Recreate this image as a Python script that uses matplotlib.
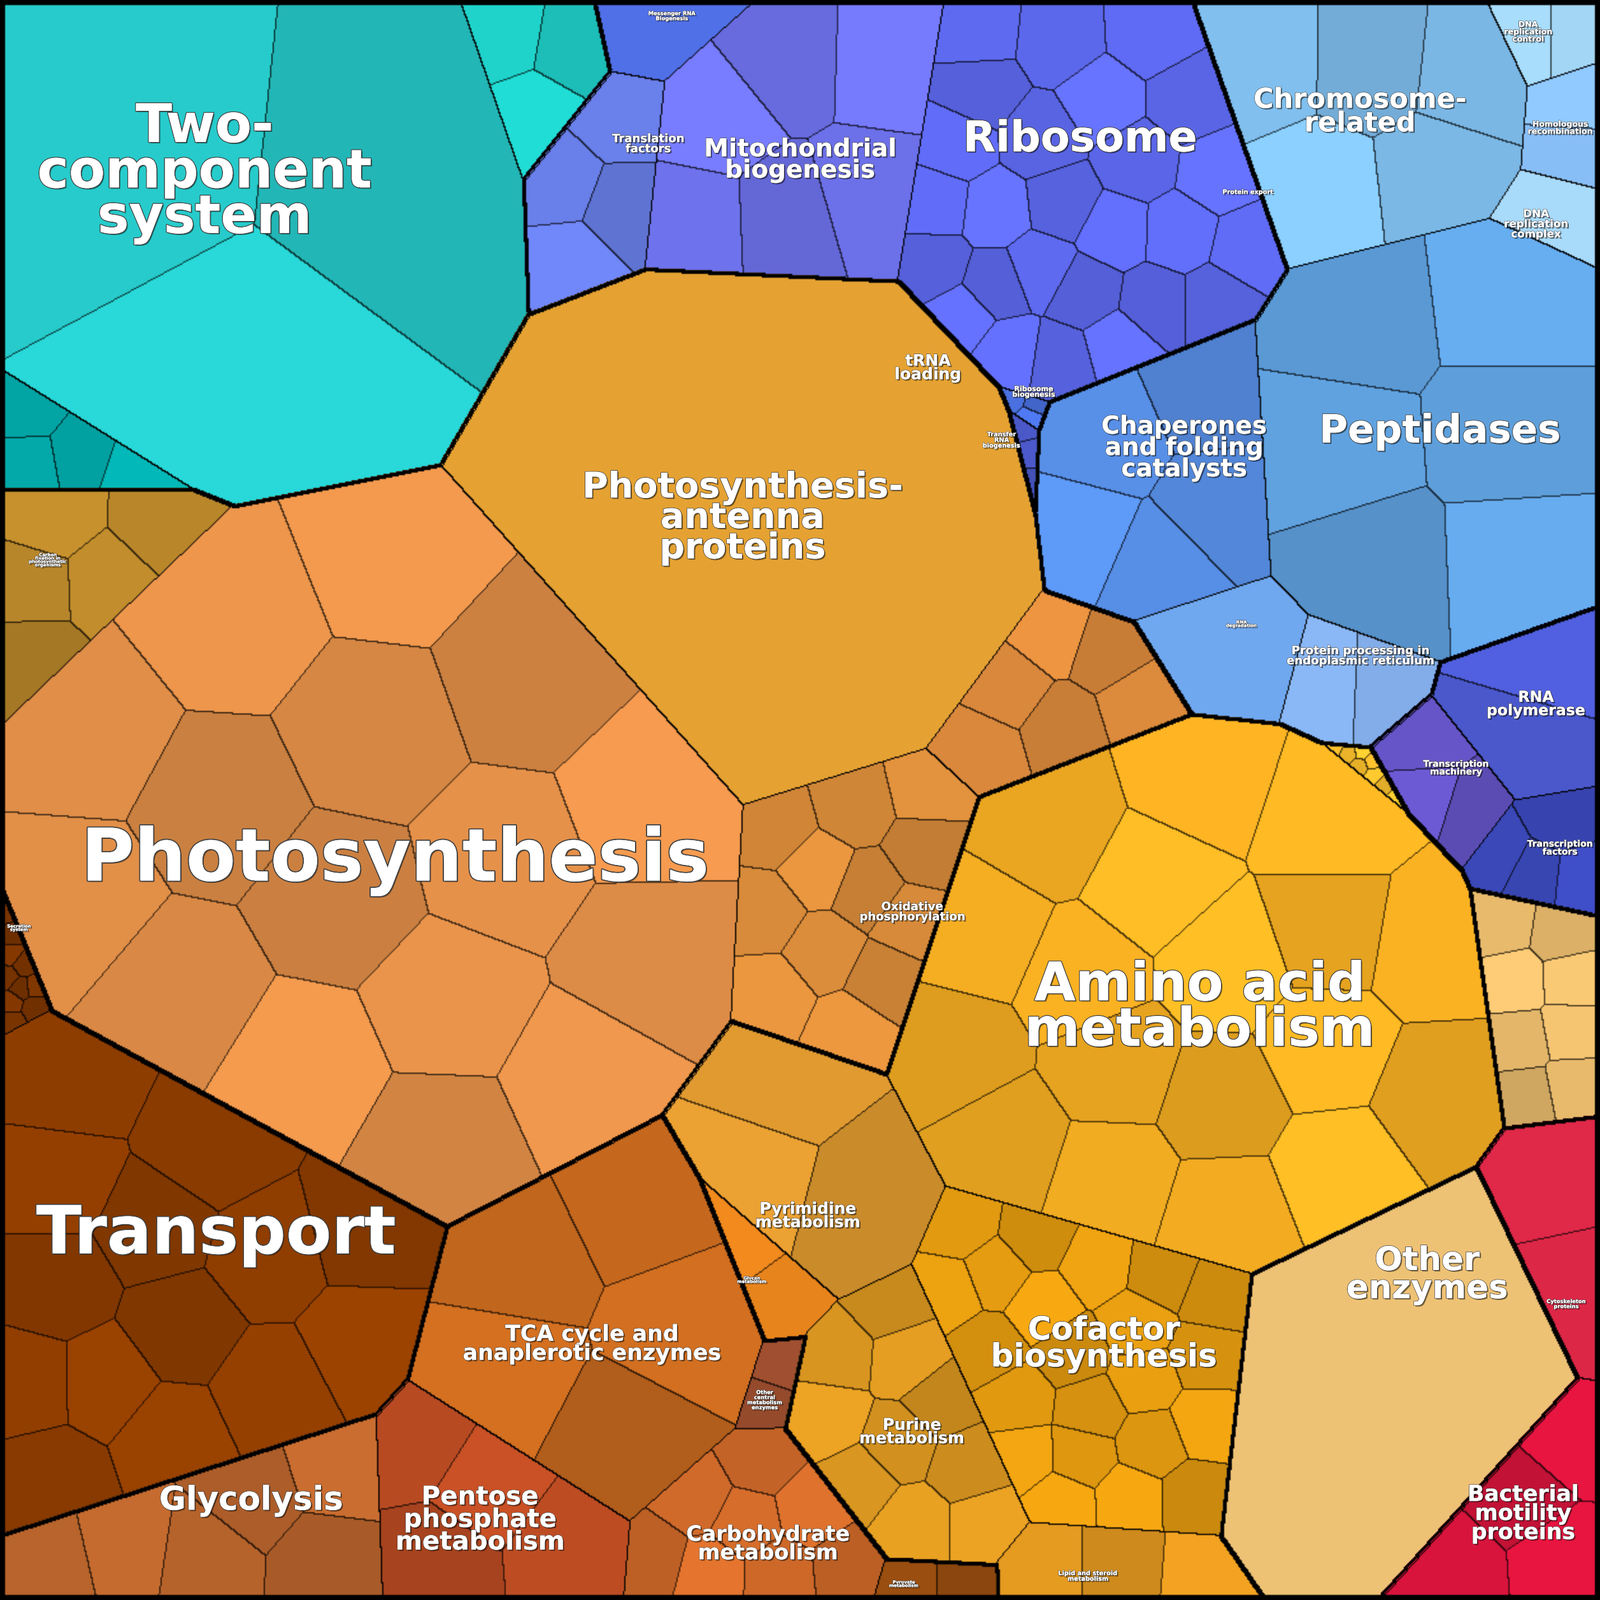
import numpy as np
import matplotlib
matplotlib.use("Agg")
import matplotlib.pyplot as plt
import matplotlib.patheffects as pe

# named cells: label, group, colour, number of sub-cells, font size
names = ["Two-\ncomponent\nsystem", "", "",
         "Photosynthesis-\nantenna\nproteins", "Photosynthesis", "Oxidative\nphosphorylation",
         "Carbon\nfixation in\nphotosynthetic\norganisms", "",
         "Transport", "Secretion\nsystem",
         "TCA cycle and\nanaplerotic enzymes", "Glycolysis", "Pentose\nphosphate\nmetabolism",
         "Carbohydrate\nmetabolism", "Other\ncentral\nmetabolism\nenzymes", "Pyruvate\nmetabolism",
         "Amino acid\nmetabolism", "Cofactor\nbiosynthesis", "Purine\nmetabolism",
         "Pyrimidine\nmetabolism", "Glycan\nmetabolism", "Lipid and steroid\nmetabolism", "",
         "Other\nenzymes", "",
         "Bacterial\nmotility\nproteins", "Cytoskeleton\nproteins",
         "Ribosome", "Mitochondrial\nbiogenesis", "Translation\nfactors", "tRNA\nloading",
         "Ribosome\nbiogenesis", "Transfer\nRNA\nbiogenesis", "Messenger RNA\nBiogenesis",
         "Chromosome-\nrelated", "DNA\nreplication\ncontrol", "Homologous\nrecombination",
         "DNA\nreplication\ncomplex", "Protein export",
         "Peptidases", "Chaperones\nand folding\ncatalysts", "Protein processing in\nendoplasmic reticulum",
         "RNA\ndegradation",
         "RNA\npolymerase", "Transcription\nmachinery", "Transcription\nfactors"]
groups = [0, 0, 0,
          1, 1, 1, 1, 1,
          2, 2,
          3, 3, 3, 3, 3, 3,
          4, 4, 4, 4, 4, 4, 4,
          5, 5,
          6, 6,
          7, 7, 7, 7, 7, 7, 7,
          8, 8, 8, 8, 8, 8, 8, 8, 8,
          9, 9, 9]
colors = ["#27CBCB", "#03A9A9", "#1FD3CB",
          "#E5A232", "#E08E48", "#D88B3A", "#B8862A", "#D9883C",
          "#8E3D00", "#7A3400",
          "#C5681E", "#B8642C", "#B84A22", "#D06A2A", "#A05030", "#9A4E10",
          "#F5AE22", "#E29A10", "#D89520", "#E09A30", "#F28A1E", "#E59A20", "#FBC02D",
          "#EEC275", "#E8BA6C",
          "#D8143C", "#E02848",
          "#5E6AF0", "#6E72EC", "#6A80EA", "#4468D8", "#4A70E0", "#4A58C8", "#5070E8",
          "#80BFEE", "#A8DDFC", "#88BEF6", "#A8DAFA", "#60A0E0",
          "#60A2E0", "#5890E8", "#8AB8F6", "#70A8F0",
          "#4A58CC", "#6655C8", "#3A48B8"]
nsub = [3, 4, 3,
        1, 16, 12, 5, 6,
        14, 10,
        5, 6, 4, 8, 2, 2,
        18, 22, 10, 3, 2, 3, 8,
        1, 8,
        4, 2,
        26, 6, 4, 4, 3, 3, 1,
        5, 2, 2, 1, 3,
        6, 5, 2, 1,
        2, 3, 4]
fsize = [60, 0, 0,
         40, 82, 13, 5, 0,
         75, 5,
         25, 37, 29, 24, 6, 5,
         60, 36, 18, 18, 5, 7, 0,
         37, 0,
         25, 6,
         48, 28, 13, 18, 8, 7, 6,
         31, 9, 9, 12, 7,
         44, 28, 13, 5,
         17, 10, 10]

# layout: seed position (fraction of width/height, y down), power weight
seed_x = [0.13, 0.03, 0.33,
          0.49, 0.22, 0.57, 0.03, 0.68,
          0.10, 0.025,
          0.37, 0.16, 0.30, 0.48, 0.478, 0.565,
          0.75, 0.69, 0.57, 0.505, 0.47, 0.68, 0.84,
          0.86, 0.96,
          0.96, 0.985,
          0.68, 0.50, 0.405, 0.58, 0.646, 0.626, 0.42,
          0.85, 0.955, 0.975, 0.96, 0.78,
          0.90, 0.74, 0.85, 0.776,
          0.96, 0.91, 0.975]
seed_y = [0.10, 0.26, 0.03,
          0.31, 0.55, 0.57, 0.35, 0.45,
          0.77, 0.63,
          0.84, 0.955, 0.95, 0.965, 0.875, 0.99,
          0.63, 0.84, 0.895, 0.76, 0.80, 0.985, 0.52,
          0.86, 0.60,
          0.95, 0.80,
          0.13, 0.10, 0.09, 0.23, 0.245, 0.275, 0.01,
          0.07, 0.02, 0.08, 0.14, 0.12,
          0.27, 0.28, 0.41, 0.39,
          0.44, 0.48, 0.53]
seed_w = [0.032, 0.0, 0.0,
          0.022, 0.046, 0.0, 0.0, 0.0,
          0.028, 0.004,
          0.010, 0.008, 0.006, 0.005, 0.0, 0.0,
          0.030, 0.012, 0.006, 0.0, 0.0, 0.0, 0.0,
          0.012, 0.0,
          0.005, 0.0,
          0.015, 0.008, 0.0, 0.0, 0.0, 0.0, 0.0,
          0.010, 0.0, 0.0, 0.0, 0.0,
          0.018, 0.008, 0.0, 0.0,
          0.002, 0.0, 0.0]

# label anchors, same as seeds except where the text sits off the seed
label_x = seed_x[:]
label_y = seed_y[:]
label_x[3], label_y[3] = 0.464, 0.324
label_x[4], label_y[4] = 0.247, 0.538
label_x[8], label_y[8] = 0.135, 0.772
label_x[11], label_y[11] = 0.157, 0.938
label_x[23], label_y[23] = 0.892, 0.797
label_x[25], label_y[25] = 0.952, 0.946
label_x[26], label_y[26] = 0.979, 0.815
label_x[27], label_y[27] = 0.675, 0.087
label_x[0], label_y[0] = 0.128, 0.108
label_x[9], label_y[9] = 0.012, 0.58

N = 1256
ys, xs = np.mgrid[0:N, 0:N]
px = (xs + 0.5) / N
py = (ys + 0.5) / N

# power diagram of named cells
best = np.full((N, N), np.inf)
L2 = np.zeros((N, N), dtype=int)
for i in range(len(names)):
    d = (px - seed_x[i]) ** 2 + (py - seed_y[i]) ** 2 - seed_w[i]
    m = d < best
    best[m] = d[m]
    L2[m] = i
G = np.array(groups)[L2]

# sub-cells by Lloyd relaxation inside each named cell
L3 = np.zeros((N, N), dtype=int)
rgb = np.zeros((N, N, 3))
sid = 0
for i in range(len(names)):
    mask = L2 == i
    if not mask.any():
        continue
    cx, cy = px[mask], py[mask]
    k = nsub[i]
    step = max(1, len(cx) // 4000)
    sx, sy = cx[::step], cy[::step]
    order = np.argsort(sx * 7.3 + sy * 3.1)
    pick = order[np.linspace(0, len(order) - 1, k + 2).astype(int)[1:-1]]
    kx, ky = sx[pick].copy(), sy[pick].copy()
    for _ in range(15):
        lab = np.argmin((sx[:, None] - kx) ** 2 + (sy[:, None] - ky) ** 2, axis=1)
        for j in range(k):
            if (lab == j).any():
                kx[j] = sx[lab == j].mean()
                ky[j] = sy[lab == j].mean()
    lab = np.argmin((cx[:, None] - kx) ** 2 + (cy[:, None] - ky) ** 2, axis=1)
    base = np.array(matplotlib.colors.to_rgb(colors[i]))
    cols = np.zeros((k, 3))
    for j in range(k):
        f = 1.0 if j == 0 else 1.0 + 0.10 * np.sin(j * 2.4 + i)
        cols[j] = np.clip(base * f, 0, 1)
    L3[mask] = sid + lab
    rgb[mask] = cols[lab]
    sid += k


def edges(lab, t):
    e = np.zeros(lab.shape, dtype=bool)
    e[:, 1:] |= lab[:, 1:] != lab[:, :-1]
    e[1:, :] |= lab[1:, :] != lab[:-1, :]
    out = e.copy()
    for s in range(1, t):
        out[s:, :] |= e[:-s, :]
        out[:, s:] |= e[:, :-s]
        out[s:, s:] |= e[:-s, :-s]
    return out


e3 = edges(L3, 1)
e2 = edges(L2, 1)
eg = edges(G, 3)
alpha = np.where(eg | e2, 1.0, np.where(e3, 0.75, 0.0))
alpha[:4, :] = 1
alpha[-4:, :] = 1
alpha[:, :4] = 1
alpha[:, -4:] = 1
over = np.zeros((N, N, 4))
over[..., 3] = alpha

fig = plt.figure(figsize=(25.12, 25.12), dpi=100)
ax = fig.add_axes([0, 0, 1, 1])
ax.imshow(rgb, extent=(0, 1, 1, 0), interpolation="nearest")
ax.imshow(over, extent=(0, 1, 1, 0), interpolation="bilinear")

for i, t in enumerate(names):
    if not t or fsize[i] == 0:
        continue
    ax.text(label_x[i], label_y[i], t, ha="center", va="center", color="white",
            fontsize=fsize[i], fontweight="bold", linespacing=0.85,
            path_effects=[pe.withSimplePatchShadow(offset=(1.5, -1.5), shadow_rgbFace="black", alpha=0.5),
                          pe.withStroke(linewidth=max(1.0, fsize[i] / 30), foreground="#444444"),
                          pe.Normal()])

ax.set_xlim(0, 1)
ax.set_ylim(1, 0)
ax.axis("off")
fig.savefig("out.png", dpi=100)
